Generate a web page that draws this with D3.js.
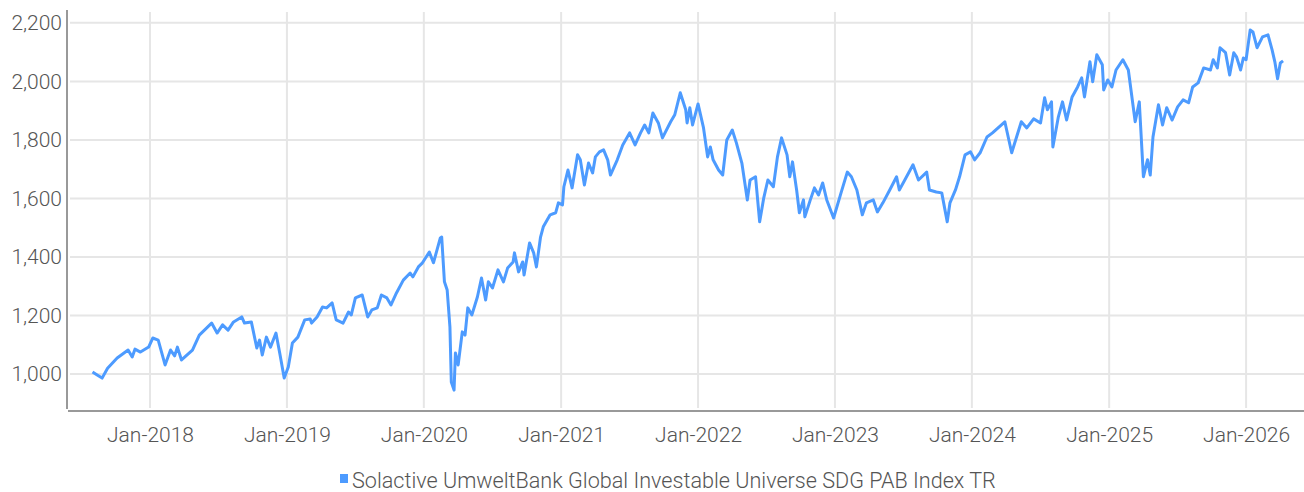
<!DOCTYPE html>
<html>
<head>
<meta charset="utf-8">
<script src="https://cdn.jsdelivr.net/npm/d3@7"></script>
<style>
  body { margin: 0; background: #fff; }
  text { font-family: Roboto, "Open Sans", sans-serif; font-weight: 300; fill: #555; }
</style>
</head>
<body>
<div id="chart"></div>
<script>
// index level, dates as decimal years
const years = [
  2017.58, 2017.62, 2017.65, 2017.69, 2017.76, 2017.84, 2017.87, 2017.89, 2017.93, 2017.99,
  2018.02, 2018.06, 2018.11, 2018.15, 2018.18, 2018.20, 2018.23, 2018.31, 2018.36, 2018.45,
  2018.49, 2018.53, 2018.57, 2018.61, 2018.67, 2018.69, 2018.74, 2018.78, 2018.80, 2018.82,
  2018.85, 2018.88, 2018.92, 2018.95, 2018.98, 2019.01, 2019.04, 2019.08, 2019.13, 2019.17,
  2019.18, 2019.22, 2019.26, 2019.29, 2019.33, 2019.36, 2019.41, 2019.45, 2019.47, 2019.50,
  2019.55, 2019.59, 2019.62, 2019.66, 2019.69, 2019.73, 2019.76, 2019.80, 2019.85, 2019.90,
  2019.92, 2019.96, 2019.99, 2020.04, 2020.07, 2020.12, 2020.13, 2020.15, 2020.17, 2020.19,
  2020.20, 2020.22, 2020.23, 2020.25, 2020.28, 2020.30, 2020.32, 2020.35, 2020.39, 2020.42,
  2020.45, 2020.47, 2020.50, 2020.54, 2020.58, 2020.61, 2020.65, 2020.66, 2020.69, 2020.72,
  2020.73, 2020.77, 2020.80, 2020.82, 2020.85, 2020.87, 2020.92, 2020.96, 2020.98, 2021.01,
  2021.02, 2021.05, 2021.08, 2021.12, 2021.14, 2021.17, 2021.20, 2021.23, 2021.25, 2021.28,
  2021.31, 2021.34, 2021.36, 2021.41, 2021.45, 2021.50, 2021.54, 2021.58, 2021.61, 2021.64,
  2021.67, 2021.71, 2021.74, 2021.80, 2021.83, 2021.87, 2021.91, 2021.92, 2021.94, 2021.96,
  2022.00, 2022.04, 2022.07, 2022.09, 2022.11, 2022.15, 2022.18, 2022.21, 2022.25, 2022.28,
  2022.32, 2022.36, 2022.38, 2022.42, 2022.45, 2022.48, 2022.51, 2022.55, 2022.58, 2022.61,
  2022.65, 2022.67, 2022.69, 2022.72, 2022.74, 2022.77, 2022.78, 2022.82, 2022.85, 2022.88,
  2022.91, 2022.94, 2022.99, 2023.04, 2023.09, 2023.12, 2023.16, 2023.20, 2023.23, 2023.28,
  2023.31, 2023.35, 2023.40, 2023.45, 2023.47, 2023.51, 2023.57, 2023.61, 2023.67, 2023.69,
  2023.74, 2023.78, 2023.82, 2023.84, 2023.88, 2023.91, 2023.95, 2023.99, 2024.02, 2024.06,
  2024.11, 2024.15, 2024.24, 2024.29, 2024.36, 2024.40, 2024.45, 2024.50, 2024.53, 2024.55,
  2024.58, 2024.59, 2024.63, 2024.66, 2024.69, 2024.73, 2024.77, 2024.80, 2024.82, 2024.86,
  2024.88, 2024.91, 2024.95, 2024.96, 2024.99, 2025.02, 2025.05, 2025.10, 2025.14, 2025.19,
  2025.22, 2025.25, 2025.28, 2025.30, 2025.32, 2025.36, 2025.39, 2025.42, 2025.46, 2025.50,
  2025.54, 2025.58, 2025.61, 2025.65, 2025.69, 2025.74, 2025.76, 2025.79, 2025.81, 2025.85,
  2025.88, 2025.91, 2025.93, 2025.96, 2025.98, 2026.00, 2026.03, 2026.05, 2026.08, 2026.12,
  2026.16, 2026.19, 2026.21, 2026.23, 2026.25, 2026.27
];
const values = [
  1007, 995, 986, 1020, 1055, 1082, 1058, 1085, 1075, 1092,
  1123, 1116, 1031, 1082, 1062, 1092, 1048, 1082, 1133, 1174,
  1140, 1168, 1150, 1178, 1195, 1174, 1178, 1089, 1116, 1065,
  1126, 1092, 1140, 1065, 986, 1024, 1106, 1126, 1185, 1188,
  1174, 1195, 1229, 1226, 1243, 1185, 1174, 1212, 1202, 1260,
  1270, 1195, 1219, 1226, 1270, 1260, 1236, 1277, 1321, 1345,
  1332, 1366, 1380, 1417, 1380, 1465, 1468, 1315, 1287, 1161,
  973, 945, 1072, 1031, 1144, 1133, 1226, 1202, 1263, 1328,
  1253, 1315, 1294, 1356, 1315, 1362, 1383, 1414, 1349, 1383,
  1338, 1448, 1414, 1366, 1468, 1503, 1544, 1551, 1585, 1578,
  1640, 1697, 1636, 1749, 1732, 1646, 1721, 1687, 1742, 1759,
  1766, 1732, 1680, 1732, 1783, 1824, 1783, 1824, 1851, 1824,
  1892, 1858, 1807, 1862, 1886, 1961, 1903, 1858, 1910, 1851,
  1923, 1841, 1742, 1776, 1732, 1697, 1680, 1800, 1834, 1790,
  1721, 1595, 1663, 1674, 1520, 1602, 1663, 1640, 1742, 1807,
  1749, 1674, 1725, 1629, 1551, 1595, 1537, 1595, 1636, 1612,
  1653, 1595, 1533, 1612, 1690, 1674, 1629, 1544, 1585, 1595,
  1554, 1585, 1629, 1674, 1629, 1663, 1715, 1663, 1690, 1629,
  1622, 1619, 1520, 1585, 1629, 1674, 1749, 1759, 1732, 1756,
  1810, 1824, 1862, 1756, 1862, 1841, 1872, 1858, 1944, 1903,
  1930, 1776, 1879, 1930, 1868, 1947, 1981, 2012, 1947, 2067,
  1999, 2091, 2057, 1971, 2005, 1981, 2039, 2074, 2039, 1862,
  1930, 1674, 1732, 1680, 1810, 1920, 1851, 1910, 1868, 1913,
  1937, 1927, 1981, 1995, 2046, 2039, 2074, 2046, 2115, 2098,
  2022, 2098, 2084, 2039, 2080, 2074, 2176, 2169, 2115, 2152,
  2159, 2108, 2067, 2009, 2063, 2070
];
const yTicks = [1000, 1200, 1400, 1600, 1800, 2000, 2200];
const seriesName = "Solactive UmweltBank Global Investable Universe SDG PAB Index TR";

const width = 1304;
const height = 492;
const plot = {left: 68, right: 1304, top: 10, bottom: 410};
const lineColor = "#4d9bff";

// decimal year -> Date
function toDate(y) {
  const yr = Math.floor(y);
  const start = new Date(yr, 0, 1), end = new Date(yr + 1, 0, 1);
  return new Date(start.getTime() + (y - yr) * (end - start));
}

const data = years.map((y, i) => ({date: toDate(y), value: values[i]}));

const svg = d3.select("#chart")
  .append("svg")
  .attr("width", width)
  .attr("height", height);

const x = d3.scaleTime()
  .domain([toDate(2017.401), toDate(2026.423)])
  .range([plot.left, plot.right]);

const y = d3.scaleLinear()
  .domain([877, 2244])
  .range([plot.bottom, plot.top]);

// horizontal grid
svg.append("g")
  .selectAll("line")
  .data(yTicks)
  .join("line")
    .attr("x1", plot.left + 2)
    .attr("x2", plot.right)
    .attr("y1", d => y(d))
    .attr("y2", d => y(d))
    .attr("stroke", "#e6e6e6")
    .attr("stroke-width", 2);

// vertical grid
const xTicks = x.ticks(d3.timeYear.every(1));
svg.append("g")
  .selectAll("line")
  .data(xTicks)
  .join("line")
    .attr("x1", d => x(d))
    .attr("x2", d => x(d))
    .attr("y1", plot.top + 2)
    .attr("y2", plot.bottom - 2)
    .attr("stroke", "#e6e6e6")
    .attr("stroke-width", 2);

// y axis
const yAxis = svg.append("g")
  .attr("transform", `translate(${plot.left - 1},0)`)
  .call(d3.axisLeft(y).tickValues(yTicks).tickFormat(d3.format(",")).tickSize(0).tickPadding(5));
yAxis.select(".domain").attr("stroke", "#999").attr("stroke-width", 2).attr("d", `M0,${plot.top}V${plot.bottom - 1}`);
yAxis.selectAll("text").attr("font-size", "21px").attr("font-family", null).attr("fill", "#555");

// x axis
const xAxis = svg.append("g")
  .attr("transform", `translate(0,${plot.bottom + 1})`)
  .call(d3.axisBottom(x).ticks(d3.timeYear.every(1)).tickFormat(d3.timeFormat("%b-%Y")).tickSize(0).tickPadding(16));
xAxis.select(".domain").attr("stroke", "#999").attr("stroke-width", 2).attr("d", `M${plot.left},0H${plot.right}`);
xAxis.selectAll("text").attr("font-size", "21px").attr("font-family", null).attr("fill", "#555");

// the index line
svg.append("path")
  .datum(data)
  .attr("fill", "none")
  .attr("stroke", lineColor)
  .attr("stroke-width", 3)
  .attr("stroke-linejoin", "round")
  .attr("d", d3.line().x(d => x(d.date)).y(d => y(d.value)));

// legend
const legend = svg.append("g");
legend.append("text")
  .attr("x", 352)
  .attr("y", 488)
  .attr("font-size", "21.6px")
  .text(seriesName);
legend.append("rect")
  .attr("x", 340)
  .attr("y", 474)
  .attr("width", 8)
  .attr("height", 9)
  .attr("fill", lineColor);
</script>
</body>
</html>
